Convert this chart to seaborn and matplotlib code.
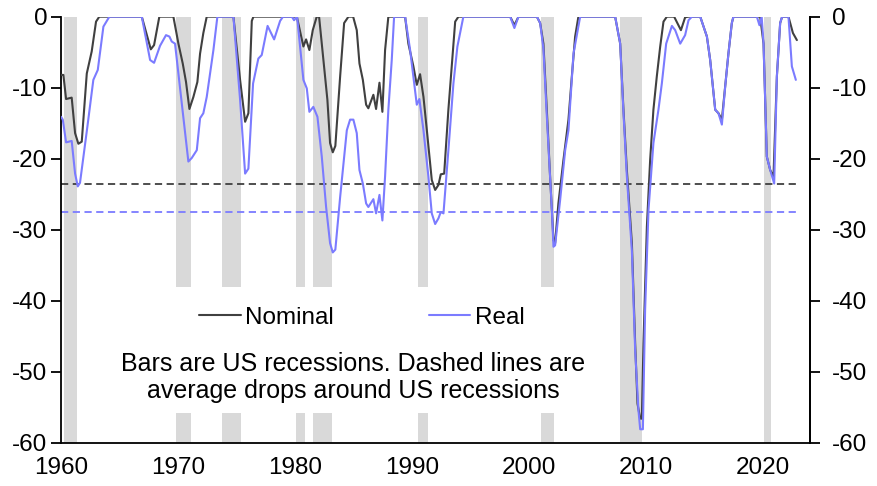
import matplotlib
matplotlib.use("Agg")
import matplotlib.pyplot as plt
import seaborn as sns
import pandas as pd
from matplotlib.patches import Rectangle

# ---- data ----
nominal_years = [1960.00, 1960.20, 1960.43, 1960.91, 1961.20, 1961.48, 1961.77, 1962.20, 1962.62, 1962.99,
                 1963.27, 1966.90, 1967.67, 1967.95, 1968.40, 1969.60, 1970.03, 1970.40, 1970.68, 1970.97,
                 1971.31, 1971.65, 1971.88, 1972.16, 1972.45, 1974.73, 1975.30, 1975.73, 1976.01, 1976.30,
                 1976.44, 1980.15, 1980.71, 1980.94, 1981.22, 1981.51, 1981.85, 1982.05, 1982.28, 1982.76,
                 1982.99, 1983.22, 1983.44, 1983.85, 1984.19, 1984.56, 1984.96, 1985.27, 1985.50, 1985.79,
                 1986.07, 1986.26, 1986.69, 1986.92, 1987.21, 1987.46, 1987.69, 1987.97, 1989.40, 1989.68,
                 1990.11, 1990.40, 1990.68, 1990.97, 1991.26, 1991.68, 1991.97, 1992.25, 1992.45, 1992.74,
                 1993.10, 1993.53, 1993.68, 1993.96, 1998.38, 1998.74, 1999.09, 2000.66, 2000.94, 2001.22,
                 2001.51, 2001.79, 2002.08, 2002.22, 2002.50, 2002.93, 2003.36, 2003.65, 2003.93, 2004.21,
                 2007.35, 2007.78, 2008.06, 2008.35, 2008.78, 2009.06, 2009.26, 2009.49, 2009.63, 2009.77,
                 2010.06, 2010.34, 2010.62, 2010.91, 2011.20, 2011.48, 2011.77, 2012.39, 2012.97, 2013.33,
                 2013.59, 2014.62, 2015.19, 2015.47, 2015.90, 2016.18, 2016.47, 2016.75, 2017.03, 2017.32,
                 2017.46, 2019.74, 2020.03, 2020.31, 2020.60, 2020.88, 2021.17, 2021.45, 2021.62, 2022.16,
                 2022.54, 2022.88]
nominal_values = [-8.2, -8.2, -11.6, -11.4, -16.4, -17.9, -17.6, -8.0, -4.9, -0.7,
                  0.0, 0.0, -4.6, -4.0, 0.0, 0.0, -3.8, -6.6, -9.2, -13.0,
                  -11.3, -9.2, -5.2, -2.3, 0.0, 0.0, -8.9, -14.8, -13.6, -0.6,
                  0.0, 0.0, -4.2, -3.2, -4.7, -1.9, 0.0, 0.0, -3.8, -11.7,
                  -17.8, -19.1, -18.2, -8.4, -0.9, 0.0, 0.0, -1.9, -6.6, -8.9,
                  -12.4, -12.9, -11.0, -13.0, -9.3, -13.4, -4.7, 0.0, 0.0, -3.8,
                  -7.0, -9.6, -8.1, -11.3, -16.0, -23.0, -24.4, -23.7, -22.2, -22.1,
                  -13.1, -3.8, -0.7, 0.0, 0.0, -1.2, 0.0, 0.0, -0.9, -3.8,
                  -13.1, -22.5, -31.5, -31.9, -26.3, -20.2, -14.5, -8.4, -2.8, 0.0,
                  0.0, -3.8, -13.1, -21.6, -31.9, -46.0, -54.5, -56.6, -56.6, -46.0,
                  -29.6, -20.2, -13.1, -8.4, -4.2, -0.7, 0.0, 0.0, -1.9, -0.1,
                  0.0, 0.0, -2.8, -6.1, -13.1, -13.6, -14.5, -9.9, -5.2, -0.9,
                  0.0, 0.0, -3.8, -19.7, -21.6, -22.5, -8.4, -0.9, 0.0, 0.0,
                  -2.3, -3.3]

real_years = [1960.00, 1960.15, 1960.43, 1960.91, 1961.20, 1961.43, 1961.62, 1962.25, 1962.76, 1963.14,
              1963.62, 1964.13, 1966.90, 1967.61, 1967.95, 1968.46, 1968.97, 1969.26, 1969.46, 1969.74,
              1970.88, 1971.17, 1971.60, 1971.88, 1972.16, 1972.45, 1973.02, 1973.36, 1974.73, 1975.30,
              1975.73, 1976.01, 1976.41, 1976.86, 1977.15, 1977.65, 1978.21, 1978.72, 1978.97, 1979.72,
              1979.91, 1980.17, 1980.71, 1981.00, 1981.22, 1981.56, 1981.91, 1982.28, 1982.65, 1982.99,
              1983.22, 1983.44, 1983.85, 1984.42, 1984.70, 1984.98, 1985.27, 1985.50, 1985.79, 1986.07,
              1986.26, 1986.69, 1986.92, 1987.21, 1987.46, 1987.69, 1987.97, 1988.26, 1988.46, 1989.40,
              1989.83, 1990.40, 1990.62, 1990.97, 1991.39, 1991.68, 1991.97, 1992.25, 1992.45, 1992.68,
              1993.10, 1993.53, 1993.87, 1994.38, 1998.38, 1998.74, 1999.09, 2000.66, 2000.94, 2001.22,
              2001.51, 2001.94, 2002.08, 2002.22, 2002.65, 2003.08, 2003.36, 2003.79, 2004.36, 2007.35,
              2007.78, 2008.06, 2008.35, 2008.78, 2009.06, 2009.34, 2009.49, 2009.72, 2009.91, 2010.20,
              2010.62, 2011.05, 2011.34, 2011.71, 2012.20, 2012.48, 2012.91, 2013.33, 2013.62, 2013.91,
              2014.62, 2015.19, 2015.47, 2015.90, 2016.18, 2016.47, 2016.75, 2017.03, 2017.32, 2017.46,
              2019.46, 2019.68, 2019.87, 2020.03, 2020.31, 2020.60, 2020.94, 2021.17, 2021.45, 2021.62,
              2022.16, 2022.45, 2022.79]
real_values = [-14.1, -14.5, -17.7, -17.5, -22.1, -23.9, -23.4, -15.5, -8.9, -7.5,
               -1.4, 0.0, 0.0, -6.1, -6.5, -4.1, -2.6, -2.8, -3.5, -3.8,
               -20.4, -19.9, -18.8, -14.3, -13.6, -11.3, -4.7, 0.0, 0.0, -11.7,
               -22.1, -21.4, -9.4, -5.9, -5.4, -1.3, -3.2, -0.6, 0.0, 0.0,
               -0.5, 0.0, -8.9, -10.1, -13.4, -12.7, -14.1, -19.7, -26.8, -31.9,
               -33.2, -32.8, -25.4, -16.0, -14.5, -14.5, -16.4, -21.6, -23.5, -26.3,
               -26.8, -25.7, -27.7, -25.1, -28.7, -22.5, -13.1, -6.1, 0.0, 0.0,
               -4.7, -12.4, -11.6, -16.0, -22.5, -27.7, -29.2, -28.4, -27.5, -27.7,
               -18.8, -9.4, -4.2, 0.0, 0.0, -1.6, 0.0, 0.0, -0.9, -4.5,
               -14.0, -27.2, -32.4, -32.2, -25.8, -18.8, -16.0, -5.2, 0.0, 0.0,
               -3.8, -13.5, -22.5, -33.0, -47.0, -55.4, -58.1, -58.1, -41.3, -27.2,
               -17.8, -13.1, -9.4, -3.8, -1.3, -1.9, -3.8, -2.6, -0.5, 0.0,
               0.0, -2.8, -6.1, -13.1, -13.6, -15.2, -9.9, -5.2, -0.9, 0.0,
               0.0, -1.2, 0.0, -3.8, -19.7, -21.6, -23.5, -8.4, -0.9, 0.0,
               0.0, -7.0, -8.9]

recession_starts = [1960.26, 1969.83, 1973.76, 1980.09, 1981.54, 1990.51, 2001.03, 2007.78, 2020.09]
recession_ends = [1961.37, 1971.08, 1975.36, 1980.85, 1983.14, 1991.34, 2002.14, 2009.66, 2020.68]

avg_nominal = -23.6
avg_real = -27.5

series_names = ["Nominal", "Real"]
note_text = "Bars are US recessions. Dashed lines are\naverage drops around US recessions"
y_ticks = [0, -10, -20, -30, -40, -50, -60]
x_ticks = [1960, 1970, 1980, 1990, 2000, 2010, 2020]

# ---- styling ----
NOM_COL = "#404040"
REAL_COL = "#7b7bff"
BAR_COL = "#d9d9d9"

sns.set_style("white")
plt.rcParams["font.family"] = ["Liberation Sans", "DejaVu Sans"]
plt.rcParams["text.color"] = "black"
plt.rcParams["axes.labelcolor"] = "black"
FS = 17.5

df = pd.concat([
    pd.DataFrame({"year": nominal_years, "value": nominal_values, "series": series_names[0]}),
    pd.DataFrame({"year": real_years, "value": real_values, "series": series_names[1]}),
], ignore_index=True)

fig = plt.figure(figsize=(8.77, 4.86), dpi=100)
ax = fig.add_axes([0.0696, 0.089, 0.8540, 0.8767])

for s, e in zip(recession_starts, recession_ends):
    ax.axvspan(s, e, color=BAR_COL, lw=0, zorder=1)

# white area behind legend and note
ax.add_patch(Rectangle((1963.0, -55.8), 43.0, 17.8, facecolor="white", edgecolor="none", zorder=1.5))

ax.hlines(avg_nominal, 1960, 2022.88, colors=NOM_COL, linestyles=(0, (4, 2.5)), lw=1.3, zorder=2)
ax.hlines(avg_real, 1960, 2022.88, colors=REAL_COL, linestyles=(0, (4, 2.5)), lw=1.3, zorder=2)

sns.lineplot(data=df, x="year", y="value", hue="series",
             palette={series_names[0]: NOM_COL, series_names[1]: REAL_COL},
             linewidth=1.5, ax=ax, legend=False, zorder=3)

ax.set_xlim(1960, 2024)
ax.set_ylim(-60, 0)
ax.set_xticks(x_ticks)
ax.set_yticks(y_ticks)
ax.set_xlabel("")
ax.set_ylabel("")

for side in ["left", "right", "bottom"]:
    ax.spines[side].set_visible(True)
    ax.spines[side].set_color("black")
    ax.spines[side].set_linewidth(1.3)
ax.spines["top"].set_visible(False)

ax.tick_params(axis="x", direction="out", length=5, width=1.3, labelsize=FS, pad=5, colors="black")
ax.tick_params(axis="y", direction="out", length=7, width=1.3, labelsize=FS, pad=3, colors="black",
               left=True, right=False)
ax.set_yticklabels([str(t) for t in y_ticks])
ax.set_xticklabels([str(t) for t in x_ticks])

ax2 = ax.twinx()
ax2.set_ylim(-60, 0)
ax2.set_yticks(y_ticks)
ax2.set_yticklabels([str(t) for t in y_ticks])
ax2.tick_params(axis="y", direction="out", length=7, width=1.3, labelsize=FS, pad=9, colors="black")
for side in ["left", "top", "bottom"]:
    ax2.spines[side].set_visible(False)
ax2.spines["right"].set_linewidth(1.3)
ax2.spines["right"].set_color("black")

lines = ax.get_lines()
handles = [l for l in lines if l.get_color() in (NOM_COL, REAL_COL)][:2]
leg = ax.legend(handles, series_names, ncol=2, loc="center", bbox_to_anchor=(0.402, 0.293),
                frameon=False, fontsize=FS, handlelength=1.7, handletextpad=0.2,
                columnspacing=3.9, labelcolor="black")
leg.set_zorder(5)

ax.text(1984.96, -50.8, note_text, ha="center", va="center", fontsize=18,
        linespacing=1.2, color="black", zorder=5)

fig.savefig("out.png", dpi=100)
